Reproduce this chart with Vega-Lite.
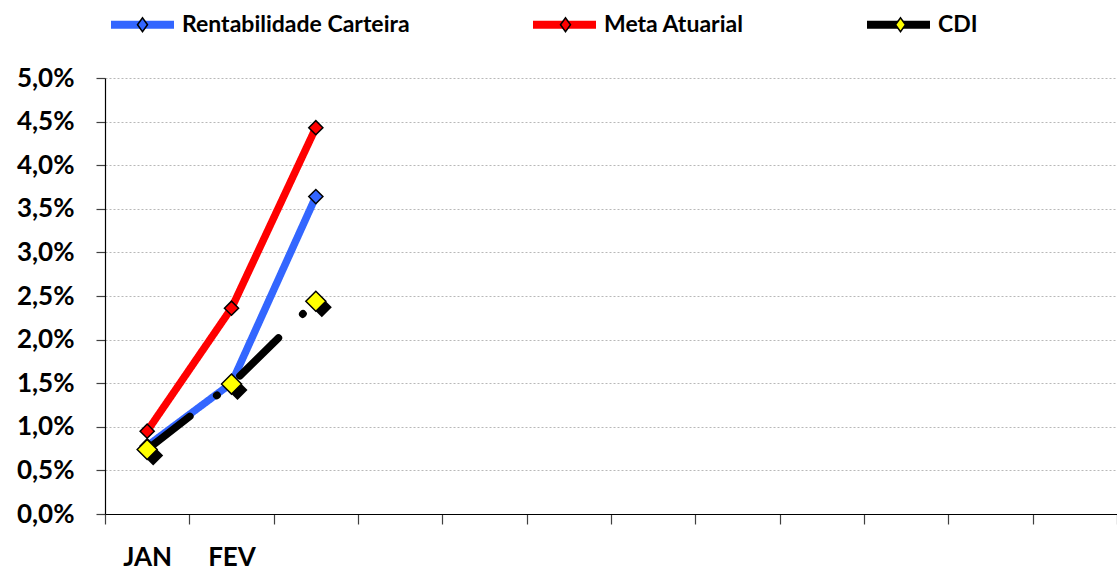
{
  "$schema": "https://vega.github.io/schema/vega-lite/v6.json",
  "width": 1012,
  "height": 436,
  "autosize": {"type": "none"},
  "padding": {"left": 105, "top": 78, "right": 0, "bottom": 57},
  "background": "white",
  "config": {
    "font": "Lato",
    "view": {"stroke": null},
    "axis": {
      "labelFont": "Lato",
      "labelFontWeight": "bold",
      "labelColor": "#000000",
      "domainColor": "#000000",
      "domainWidth": 1.2,
      "tickColor": "#404040",
      "tickWidth": 1.2,
      "title": null
    }
  },
  "data": {
    "values": [
      {"mes": "JAN", "serie": "Rentabilidade Carteira", "valor": 0.78},
      {"mes": "FEV", "serie": "Rentabilidade Carteira", "valor": 1.50},
      {"mes": "MAR", "serie": "Rentabilidade Carteira", "valor": 3.64},
      {"mes": "JAN", "serie": "Meta Atuarial", "valor": 0.95},
      {"mes": "FEV", "serie": "Meta Atuarial", "valor": 2.36},
      {"mes": "MAR", "serie": "Meta Atuarial", "valor": 4.43},
      {"mes": "JAN", "serie": "CDI", "valor": 0.74},
      {"mes": "FEV", "serie": "CDI", "valor": 1.49},
      {"mes": "MAR", "serie": "CDI", "valor": 2.44}
    ]
  },
  "encoding": {
    "x": {
      "field": "mes",
      "type": "ordinal",
      "bandPosition": 0.5,
      "scale": {
        "type": "band",
        "domain": ["JAN", "FEV", "MAR", "ABR", "MAI", "JUN", "JUL", "AGO", "SET", "OUT", "NOV", "DEZ"],
        "paddingInner": 0,
        "paddingOuter": 0
      },
      "axis": {
        "tickBand": "extent",
        "tickSize": 10,
        "labelAngle": 0,
        "labelFontSize": 26,
        "labelPadding": 20,
        "labelBaseline": "top",
        "grid": false,
        "labelExpr": "indexof(['JAN', 'FEV'], datum.value) >= 0 ? datum.value : ''"
      }
    },
    "y": {
      "field": "valor",
      "type": "quantitative",
      "scale": {"domain": [0, 5], "nice": false, "zero": true},
      "axis": {
        "values": [0, 0.5, 1, 1.5, 2, 2.5, 3, 3.5, 4, 4.5, 5],
        "tickSize": 9,
        "labelPadding": 22,
        "labelFontSize": 26,
        "labelExpr": "replace(format(datum.value, '.1f'), '.', ',') + '%'",
        "grid": true,
        "gridColor": "#b8b8b8",
        "gridDash": [2, 2],
        "gridWidth": 1
      }
    }
  },
  "layer": [
    {
      "mark": {"type": "line", "strokeCap": "round", "strokeJoin": "round", "strokeWidth": 7.5},
      "encoding": {
        "color": {
          "field": "serie",
          "type": "nominal",
          "scale": {
            "domain": ["Rentabilidade Carteira", "Meta Atuarial", "CDI"],
            "range": ["#3366FF", "#FF0000", "#000000"]
          },
          "legend": {
            "orient": "none",
            "legendX": 2,
            "legendY": -89,
            "direction": "horizontal",
            "title": null,
            "symbolType": "stroke",
            "symbolSize": 3969,
            "symbolStrokeWidth": 8,
            "labelFont": "Lato",
            "labelFontSize": 23,
            "labelFontWeight": "bold",
            "labelColor": "#000000",
            "labelLimit": 500,
            "labelOffset": 4,
            "columnPadding": 107,
            "zindex": 0
          }
        },
        "strokeDash": {
          "condition": {"test": "datum.serie === 'CDI'", "value": [54, 34, 0.5, 30]},
          "value": [1, 0]
        }
      }
    },
    {
      "transform": [{"filter": "datum.serie === 'CDI'"}],
      "mark": {
        "type": "point",
        "shape": "diamond",
        "filled": true,
        "color": "#000000",
        "opacity": 1,
        "size": 400,
        "xOffset": 6,
        "yOffset": 6
      }
    },
    {
      "mark": {
        "type": "point",
        "shape": "diamond",
        "filled": true,
        "stroke": "#000000",
        "strokeWidth": 1.5,
        "opacity": 1
      },
      "encoding": {
        "fill": {
          "field": "serie",
          "type": "nominal",
          "sort": null,
          "scale": {"range": ["#3366FF", "#FF0000", "#FFFF00"]},
          "legend": {
            "orient": "none",
            "legendX": 2,
            "legendY": -89,
            "direction": "horizontal",
            "title": null,
            "symbolType": "M-1.2806,0M1.2806,0M-0.144,0L0,-0.2L0.144,0L0,0.2Z",
            "symbolSize": 4830.25,
            "symbolStrokeColor": "#000000",
            "symbolStrokeWidth": 1.5,
            "symbolOpacity": 1,
            "labelFont": "Lato",
            "labelFontSize": 23,
            "labelFontWeight": "bold",
            "labelLimit": 500,
            "labelOpacity": 0,
            "labelOffset": 4,
            "columnPadding": 107,
            "zindex": 1
          }
        },
        "size": {
          "condition": {"test": "datum.serie === 'CDI'", "value": 400},
          "value": 200
        }
      }
    }
  ]
}
